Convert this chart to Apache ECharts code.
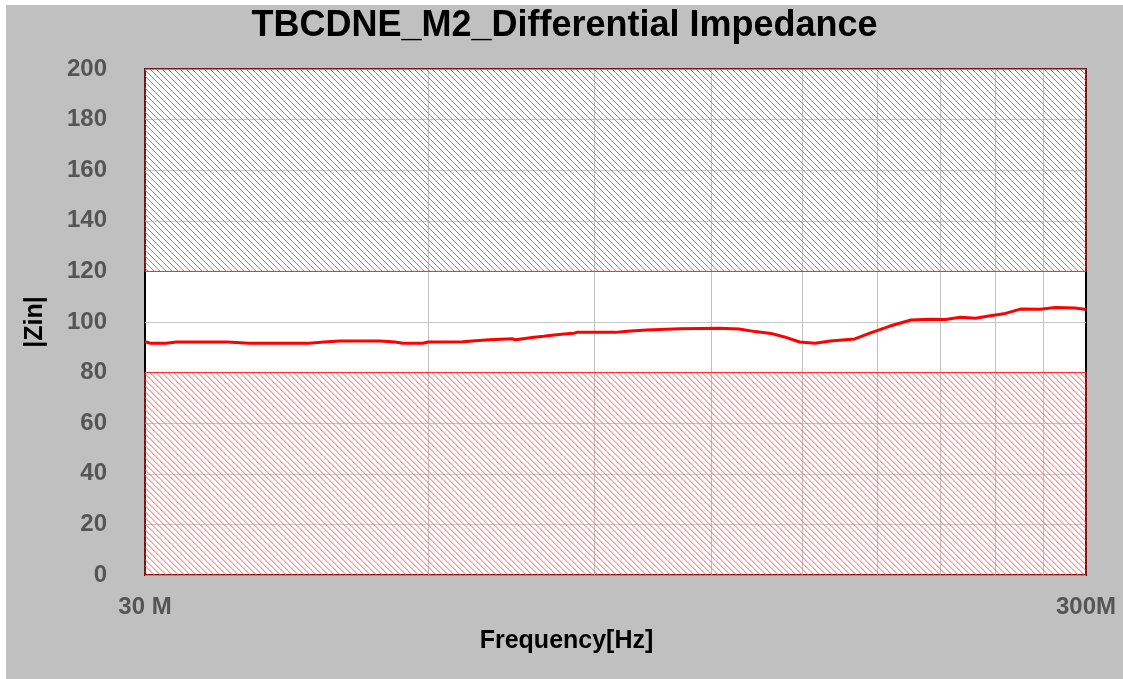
<!DOCTYPE html>
<html>
<head>
<meta charset="utf-8">
<script src="https://cdn.jsdelivr.net/npm/echarts@6/dist/echarts.min.js"></script>
<style>
  html, body { margin: 0; padding: 0; background: #fff; }
  #chart { position: absolute; left: 6px; top: 5px; width: 1117px; height: 674px; background: #c0c0c0; }
</style>
</head>
<body>
<div id="chart"></div>
<script>
// frequency in MHz, |Zin| in ohm
const freqMHz = [30, 30.4, 31.6, 32.4, 36.7, 38.7, 44.8, 46.5, 48.3, 53.3, 55.3, 56.4, 59.2, 60,
    65.3, 67.3, 69.7, 73.6, 74.3, 77.7, 79.6, 81.2, 83.6, 85.7, 86.3, 94.9, 97.6, 102.4, 111,
    122.2, 128.4, 133.5, 138.8, 143.4, 148.9, 154.6, 160.4, 170.4, 176.8, 185.7, 195.5, 204.9,
    212.6, 220.6, 228.9, 237.4, 246.3, 255.5, 268.3, 278.3, 292.1, 300];
const zin = [92.2, 91.6, 91.6, 92.1, 92.1, 91.6, 91.6, 92.1, 92.5, 92.5, 92.1, 91.6, 91.6, 92.1,
    92.2, 92.6, 93.0, 93.4, 93.0, 94.0, 94.4, 94.8, 95.3, 95.6, 95.9, 95.9, 96.3, 96.8, 97.3,
    97.5, 97.2, 96.2, 95.5, 94.1, 92.1, 91.6, 92.5, 93.3, 95.6, 98.4, 100.8, 101.1,
    101.0, 101.9, 101.5, 102.5, 103.4, 105.1, 105.0, 105.7, 105.5, 104.9];
const gridFreqs = [60, 90, 120, 150, 180, 210, 240, 270];
const xTickLabels = ['30 M', '300M'];
// out-of-spec bands [low, high]
const lowBand = [[0, 80]];
const highBand = [[120, 200]];
const fMin = 30;
const fMax = 300;

// hatched band: diagonal "\" lines clipped to the band rectangle
function renderBand(params, api) {
    const p1 = api.coord([fMin, api.value(1)]);
    const p2 = api.coord([fMax, api.value(0)]);
    const L = p1[0], T = p1[1], R = p2[0], B = p2[1];
    const step = 6;
    const children = [];
    for (let c = T - R; c <= B - L; c += step) {
        // line y = x + c
        const xa = Math.max(L, T - c);
        const xb = Math.min(R, B - c);
        if (xb <= xa) continue;
        children.push({
            type: 'line',
            silent: true,
            shape: { x1: xa, y1: xa + c, x2: xb, y2: xb + c },
            style: { stroke: '#ff6060', lineWidth: 1, opacity: 1 }
        });
    }
    children.push({
        type: 'rect',
        silent: true,
        shape: { x: L, y: T, width: R - L, height: B - T },
        style: { fill: null, stroke: '#ff2020', lineWidth: 1 }
    });
    return { type: 'group', children: children };
}

const chart = echarts.init(document.getElementById('chart'));
const fontFamily = 'Liberation Sans, Arial, sans-serif';
const labelFont = { color: '#555', fontSize: 24, fontWeight: 'bold', fontFamily: fontFamily };
const nameFont = { color: '#000', fontSize: 25, fontWeight: 'bold', fontFamily: fontFamily };

const option = {
    animation: false,
    title: {
        text: 'TBCDNE_M2_Differential Impedance',
        left: 'center',
        top: -2,
        textStyle: { color: '#000', fontSize: 36, fontWeight: 'bold', fontFamily: fontFamily }
    },
    grid: {
        left: 139, top: 64, width: 941, height: 506,
        show: true, backgroundColor: '#fff', borderColor: '#000', borderWidth: 2
    },
    xAxis: [
        {
            type: 'log', logBase: 10, min: fMin, max: fMax,
            axisLine: { show: false }, axisTick: { show: false },
            axisLabel: { show: false }, splitLine: { show: false }
        },
        {
            type: 'value', min: 0, max: 1, interval: 1, position: 'bottom',
            name: 'Frequency[Hz]', nameLocation: 'middle', nameGap: 54,
            nameTextStyle: Object.assign({ padding: [0, 98, 0, 0] }, nameFont),
            axisLine: { show: false }, axisTick: { show: false }, splitLine: { show: false },
            axisLabel: Object.assign({ margin: 20, formatter: v => xTickLabels[v] }, labelFont)
        }
    ],
    yAxis: {
        type: 'value', min: 0, max: 200, interval: 20,
        name: '|Zin|', nameLocation: 'middle', nameGap: 97, nameRotate: 90,
        nameTextStyle: nameFont,
        axisLine: { show: false }, axisTick: { show: false },
        axisLabel: Object.assign({ margin: 38 }, labelFont),
        splitLine: { lineStyle: { color: '#c8c8c8', width: 1 } }
    },
    series: [
        {
            type: 'line',
            xAxisIndex: 0,
            data: freqMHz.map((f, i) => [f, zin[i]]),
            symbol: 'none',
            lineStyle: { color: '#ff0000', width: 3 },
            z: 5,
            markLine: {
                silent: true,
                symbol: 'none',
                label: { show: false },
                lineStyle: { color: '#c0c0c0', type: 'solid', width: 1 },
                data: gridFreqs.map(f => ({ xAxis: f }))
            }
        },
        {
            type: 'custom',
            xAxisIndex: 0,
            silent: true,
            renderItem: renderBand,
            data: lowBand,
            z: 10
        },
        {
            type: 'custom',
            xAxisIndex: 0,
            silent: true,
            renderItem: renderBand,
            data: highBand,
            z: 10
        }
    ]
};

chart.setOption(option);
</script>
</body>
</html>
